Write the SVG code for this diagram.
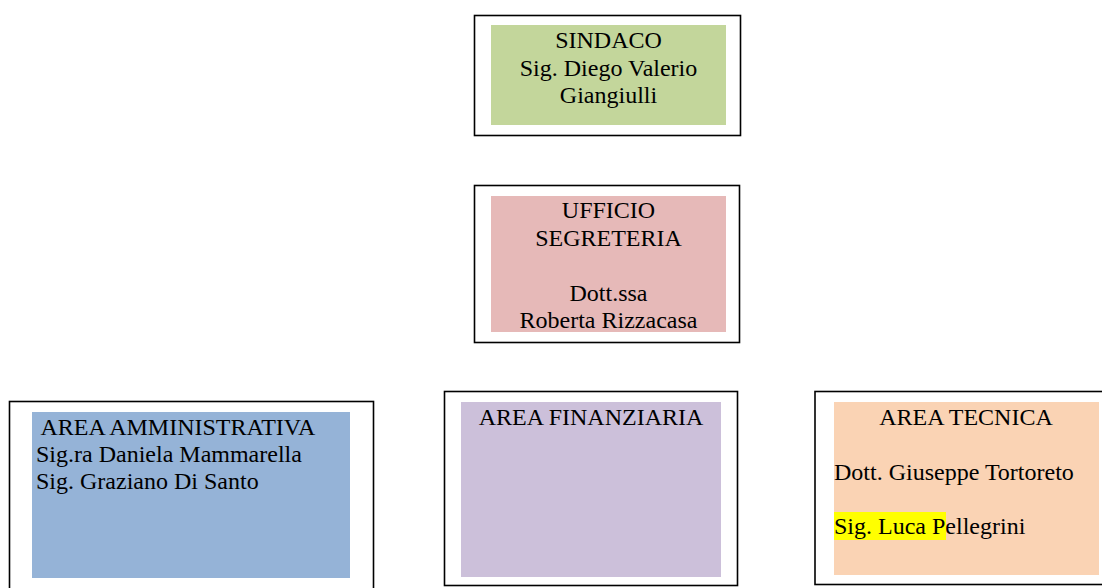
<svg xmlns="http://www.w3.org/2000/svg" width="1102" height="588" viewBox="0 0 1102 588">
<style>
.frame{fill:#fff;stroke:#000;stroke-width:1.6}
.t{font-family:"Liberation Serif","Times New Roman",serif;font-size:24px;fill:#000}
.c{text-anchor:middle}
</style>
<rect width="1102" height="588" fill="#fff"/>
<g id="sindaco">
<rect class="frame" x="474.5" y="15.5" width="266" height="120"/>
<rect x="491" y="25" width="235" height="100" fill="#C3D69B"/>
<text class="t c" x="608.5" y="48">SINDACO</text>
<text class="t c" x="608.5" y="76">Sig. Diego Valerio</text>
<text class="t c" x="608.5" y="103">Giangiulli</text>
</g>
<g id="ufficio-segreteria">
<rect class="frame" x="474.5" y="185.5" width="265" height="157"/>
<rect x="491" y="196" width="235" height="136" fill="#E6B9B8"/>
<text class="t c" x="608.5" y="218">UFFICIO</text>
<text class="t c" x="608.5" y="246">SEGRETERIA</text>
<text class="t c" x="608.5" y="301">Dott.ssa</text>
<text class="t c" x="608.5" y="328">Roberta Rizzacasa</text>
</g>
<g id="area-amministrativa">
<rect class="frame" x="9.5" y="401.5" width="364" height="200"/>
<rect x="32" y="412" width="318" height="166" fill="#95B3D7"/>
<text class="t" x="40.5" y="435">AREA AMMINISTRATIVA</text>
<text class="t" x="36" y="462">Sig.ra Daniela Mammarella</text>
<text class="t" x="36" y="489">Sig. Graziano Di Santo</text>
</g>
<g id="area-finanziaria">
<rect class="frame" x="444.5" y="391.5" width="293" height="194"/>
<rect x="461" y="402" width="260" height="175" fill="#CCC0DA"/>
<text class="t c" x="591" y="425">AREA FINANZIARIA</text>
</g>
<g id="area-tecnica">
<rect class="frame" x="815" y="391.5" width="300" height="193"/>
<rect x="834" y="402" width="265" height="173" fill="#FAD3B4"/>
<rect x="834" y="512" width="112" height="28" fill="#FFFF00"/>
<text class="t c" x="966" y="425">AREA TECNICA</text>
<text class="t" x="834" y="480">Dott. Giuseppe Tortoreto</text>
<text class="t" x="834" y="534">Sig. Luca Pellegrini</text>
</g>
<g id="connectors"></g>
</svg>
